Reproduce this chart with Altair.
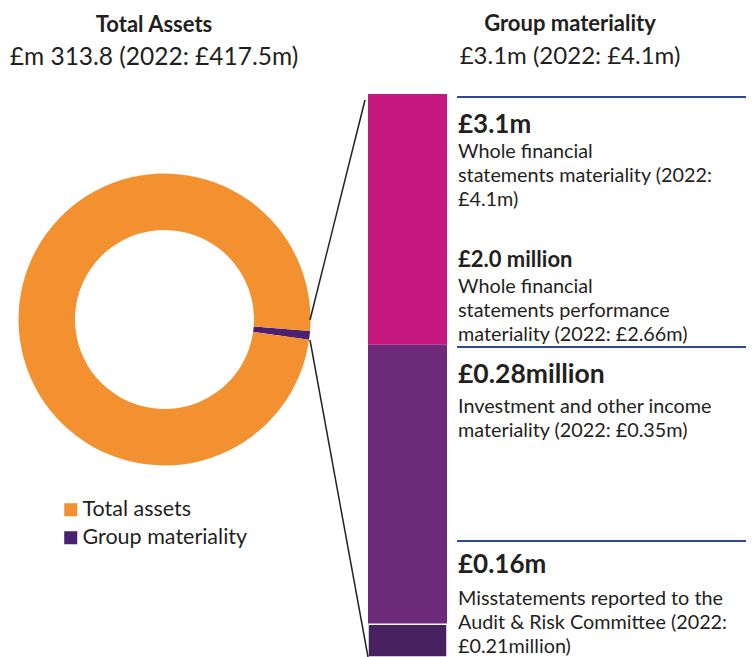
import math
import altair as alt
import pandas as pd

# ---------------- data ----------------
donut_labels = ["Group materiality", "Total assets"]
donut_values = [3.1, 313.8]
donut_colors = ["#4A2170", "#F39030"]

legend_order = ["Total assets", "Group materiality"]
legend_colors = ["#F39030", "#4A2170"]

bar_segments = ["Whole financial statements materiality",
                "Investment and other income materiality",
                "Misstatements reported"]
bar_values = [1.38, 1.54, 0.18]          # illustrative segment heights (top to bottom), total 3.1
bar_colors = ["#C5197F", "#6C2A79", "#47205F"]

title_left = "Total Assets"
subtitle_left = "£m 313.8 (2022: £417.5m)"
title_right = "Group materiality"
subtitle_right = "£3.1m (2022: £4.1m)"

head1 = "£3.1m"
body1 = ["Whole financial", "statements materiality (2022:", "£4.1m)"]
head2 = "£2.0 million"
body2 = ["Whole financial", "statements performance", "materiality (2022: £2.66m)"]
head3 = "£0.28million"
body3 = ["Investment and other income", "materiality (2022: £0.35m)"]
head4 = "£0.16m"
body4 = ["Misstatements reported to the", "Audit & Risk Committee (2022:", "£0.21million)"]

FONT = "Lato"
INK = "#231F20"
BLUE = "#2E4A93"

# ---------------- donut ----------------
donut_df = pd.DataFrame({"label": donut_labels, "value": donut_values,
                         "ord": list(range(len(donut_labels)))})
a0 = math.radians(94.5)
donut = alt.Chart(donut_df).mark_arc(outerRadius=146, innerRadius=89.5, stroke=None).encode(
    x=alt.value(156.5), y=alt.value(311.5),
    theta=alt.Theta("value:Q", stack=True, scale=alt.Scale(range=[a0, a0 + 2 * math.pi])),
    order=alt.Order("ord:Q"),
    color=alt.Color("label:N",
                    scale=alt.Scale(domain=legend_order, range=legend_colors),
                    legend=alt.Legend(orient="none", legendX=52, legendY=491, title=None,
                                      symbolType="square", symbolSize=170, symbolStrokeWidth=0,
                                      labelFont=FONT, labelFontSize=21.5, labelColor=INK,
                                      labelOffset=1, labelLimit=400, rowPadding=5, padding=0,
                                      direction="vertical")),
)

# ---------------- stacked bar ----------------
ends, starts = [], []
top = sum(bar_values)
for v in bar_values:
    ends.append(top)
    starts.append(top - v)
    top -= v
bar_df = pd.DataFrame({"seg": bar_segments, "start": starts, "end": ends})
bar = alt.Chart(bar_df).mark_bar(stroke="white").encode(
    x=alt.value(360), x2=alt.value(439),
    y=alt.Y("start:Q", axis=None, scale=alt.Scale(domain=[0, sum(bar_values)], range=[649, 86])),
    y2="end:Q",
    color=alt.Color("seg:N", scale=alt.Scale(domain=bar_segments, range=bar_colors), legend=None),
    strokeWidth=alt.condition(alt.datum.seg == bar_segments[-1], alt.value(1.5), alt.value(0)),
)

one = pd.DataFrame({"a": [0]})

def line(x, y, x2, y2, color, w):
    return alt.Chart(one).mark_rule(color=color, strokeWidth=w).encode(
        x=alt.value(x), y=alt.value(y), x2=alt.value(x2), y2=alt.value(y2))

def txt(t, x, y, size, bold=False, align="left", lh=24.2):
    return alt.Chart(one).mark_text(align=align, baseline="alphabetic", font=FONT,
                                    fontSize=size, fontWeight="bold" if bold else "normal",
                                    color=INK, lineHeight=lh).encode(
        x=alt.value(x), y=alt.value(y), text=alt.value(t))

BODY = 19.8
layers = [
    donut, bar,
    line(302, 312, 357, 92, "#222222", 1.5),
    line(302, 332, 360, 649, "#222222", 1.5),
    line(449, 89, 738, 89, BLUE, 2.2),
    line(449, 339, 738, 339, BLUE, 2.2),
    line(449, 533, 738, 533, BLUE, 2.2),
    txt(title_left, 146, 24, 22, bold=True, align="center"),
    txt(subtitle_left, 146, 57, 24.5, align="center"),
    txt(title_right, 562, 23, 22, bold=True, align="center"),
    txt(subtitle_right, 562, 56, 24, align="center"),
    txt(head1, 450, 125, 26, bold=True),
    txt(body1, 450, 150, BODY),
    txt(head2, 450, 259, 22, bold=True),
    txt(body2, 450, 285, BODY),
    txt(head3, 450, 375, 26.5, bold=True),
    txt(body3, 450, 405, BODY),
    txt(head4, 450, 565, 26, bold=True),
    txt(body4, 450, 597, BODY),
]

chart = alt.layer(*layers).resolve_scale(color="independent").properties(
    width=738, height=649, autosize="none", padding=0
).configure_view(stroke=None)

chart.save("out.html", embed_options={"renderer": "svg", "actions": False})
